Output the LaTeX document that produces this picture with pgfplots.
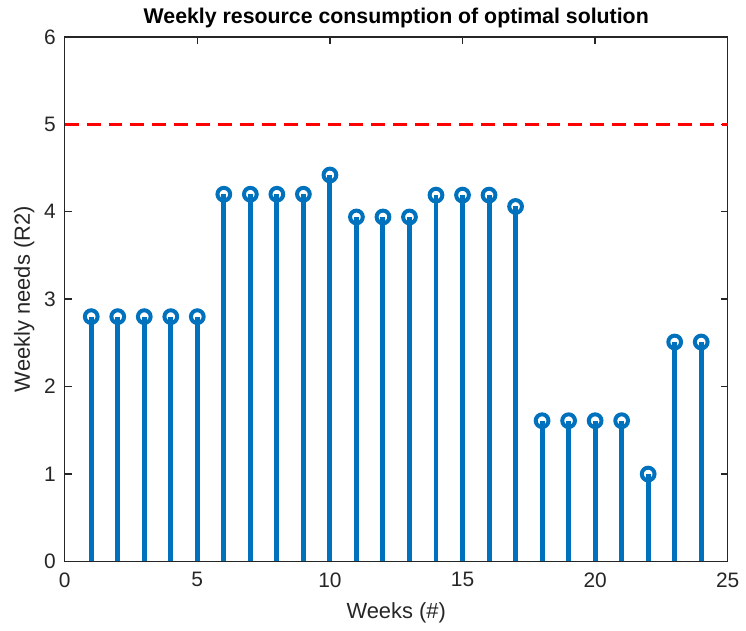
\documentclass[border=0pt]{standalone}
\usepackage{pgfplots}
\pgfplotsset{compat=1.18}
\usepackage{fontspec}
\setmainfont{Liberation Sans}
\definecolor{mblue}{rgb}{0,0.447,0.741}
\definecolor{axgray}{rgb}{0.15,0.15,0.15}

\begin{document}
\begin{tikzpicture}
\begin{axis}[
    scale only axis,
    width=333pt, height=263.5pt,
    xmin=0, xmax=25, ymin=0, ymax=6,
    xtick={0,5,...,25}, ytick={0,1,...,6},
    tick align=inside,
    major tick length=3.5pt,
    axis line style={axgray, line width=0.75pt},
    every tick/.style={axgray, line width=0.75pt},
    tick label style={font=\fontsize{10.5}{13}\selectfont, text=axgray},
    xticklabel style={yshift=-2pt},
    yticklabel style={xshift=-1pt},
    label style={font=\fontsize{11}{13}\selectfont, text=axgray},
    xlabel style={yshift=-1pt},
    ylabel style={yshift=-2pt},
    /pgf/number format/assume math mode=true,
    xlabel={Weeks (\#)},
    ylabel={Weekly needs (R2)},
    title={\bfseries Weekly resource consumption of optimal solution},
    title style={font=\fontsize{10.7}{13}\selectfont, yshift=-5pt},
    clip=false,
]
\path (rel axis cs:-0.0976,-0.1252) rectangle (rel axis cs:1.0225,1.0702);

\addplot[ycomb, color=mblue, line width=2.5pt,
    mark=o, mark size=3.2pt, mark options={line width=2pt, fill=none}]
coordinates {
(1,2.8) (2,2.8) (3,2.8) (4,2.8) (5,2.8)
(6,4.2) (7,4.2) (8,4.2) (9,4.2) (10,4.42)
(11,3.94) (12,3.94) (13,3.94)
(14,4.19) (15,4.19) (16,4.19) (17,4.06)
(18,1.61) (19,1.61) (20,1.61) (21,1.61)
(22,1.0) (23,2.51) (24,2.51)
};

\addplot[red, dashed, line width=1.5pt, dash pattern=on 7pt off 4pt, forget plot]
coordinates {(0,5) (25,5)};
\end{axis}
\end{tikzpicture}
\end{document}
